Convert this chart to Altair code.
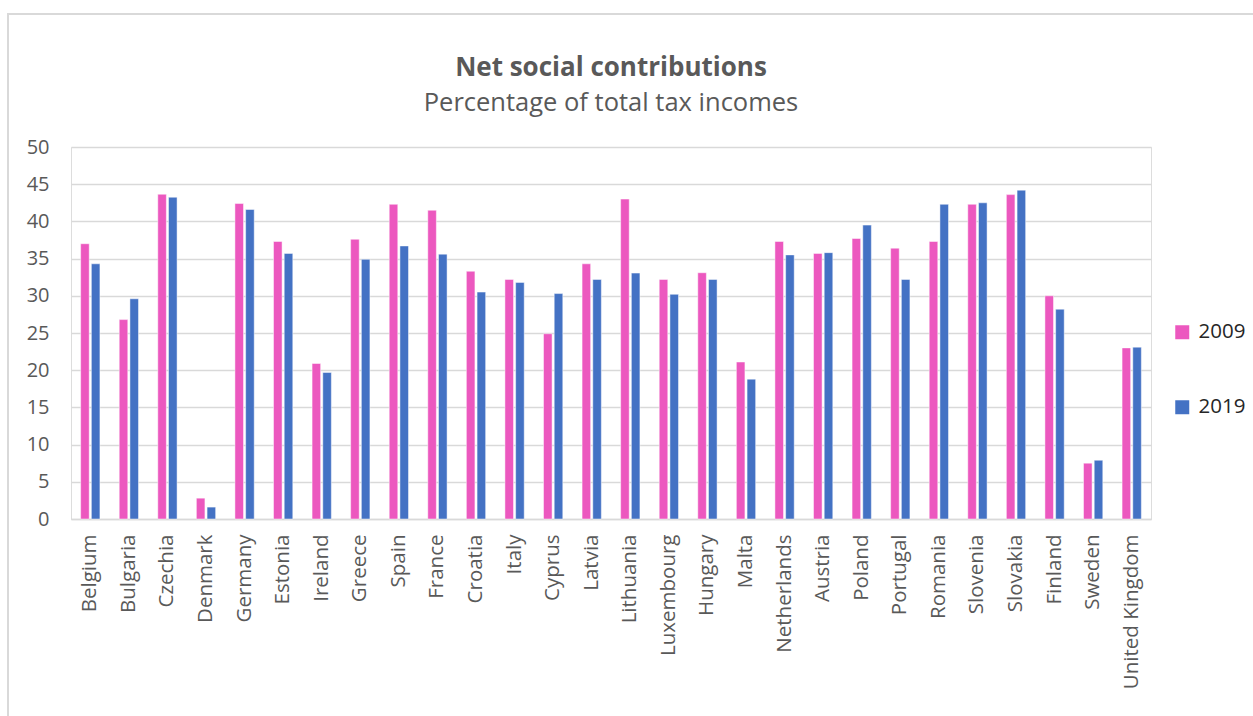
import altair as alt
import pandas as pd

countries = ["Belgium", "Bulgaria", "Czechia", "Denmark", "Germany", "Estonia", "Ireland",
             "Greece", "Spain", "France", "Croatia", "Italy", "Cyprus", "Latvia", "Lithuania",
             "Luxembourg", "Hungary", "Malta", "Netherlands", "Austria", "Poland", "Portugal",
             "Romania", "Slovenia", "Slovakia", "Finland", "Sweden", "United Kingdom"]
v2009 = [37.0, 26.8, 43.65, 2.8, 42.4, 37.3, 20.9, 37.6, 42.3, 41.5, 33.3, 32.2, 24.9, 34.3,
         43.0, 32.2, 33.1, 21.1, 37.3, 35.7, 37.7, 36.4, 37.3, 42.3, 43.6, 30.0, 7.5, 23.0]
v2019 = [34.3, 29.6, 43.25, 1.6, 41.6, 35.7, 19.7, 34.9, 36.7, 35.6, 30.5, 31.8, 30.3, 32.2,
         33.05, 30.2, 32.2, 18.8, 35.5, 35.8, 39.5, 32.2, 42.3, 42.5, 44.2, 28.2, 7.9, 23.1]
years = ["2009", "2019"]
colors = ["#EC58BF", "#4472C4"]

rows = []
for c, a, b in zip(countries, v2009, v2019):
    rows.append({"country": c, "year": years[0], "value": a})
    rows.append({"country": c, "year": years[1], "value": b})
df = pd.DataFrame(rows)

FONT = "Open Sans"
LEFT, TOP = 71, 147
W, H = 1080, 372

bars = alt.Chart(df).mark_bar(stroke="white", strokeOpacity=0.6, strokeWidth=0.8).encode(
    x=alt.X("country:N", sort=countries, title=None,
            scale=alt.Scale(paddingInner=0.5, paddingOuter=0.25),
            axis=alt.Axis(labelAngle=-90, labelFontSize=20.5, labelColor="#595959", labelFont=FONT,
                          ticks=False, domainColor="#d9d9d9", domainWidth=1.5, labelPadding=15,
                          labelBaseline="middle", labelAlign="right")),
    xOffset=alt.XOffset("year:N", scale=alt.Scale(paddingInner=0.2)),
    y=alt.Y("value:Q", title=None,
            scale=alt.Scale(domain=[0, 50]),
            axis=alt.Axis(values=list(range(0, 51, 5)), labelFontSize=20, labelColor="#595959",
                          labelFont=FONT, ticks=False, domain=False, gridColor="#d9d9d9",
                          gridWidth=1.5, labelPadding=22)),
    color=alt.Color("year:N", scale=alt.Scale(domain=years, range=colors),
                    legend=alt.Legend(title=None, orient="none", legendX=1172 - LEFT, legendY=322 - TOP,
                                      symbolType="square", symbolSize=196, symbolStrokeWidth=0,
                                      labelFontSize=20.5, labelFont=FONT, labelColor="#262626",
                                      rowPadding=54, labelOffset=6)),
)

border = alt.Chart(pd.DataFrame({"a": [0]})).mark_rect(fill=None, stroke="#d9d9d9", strokeWidth=2).encode(
    x=alt.value(8 - LEFT), x2=alt.value(W + 140), y=alt.value(14 - TOP), y2=alt.value(H + 220)
)

chart = alt.layer(border, bars).properties(
    width=W, height=H,
    title=alt.TitleParams("Net social contributions", subtitle="Percentage of total tax incomes",
                          font=FONT, fontSize=26, fontWeight="bold", color="#595959",
                          subtitleFont=FONT, subtitleFontSize=25.5, subtitleColor="#595959",
                          subtitlePadding=10, anchor="middle", offset=-103),
    autosize=alt.AutoSizeParams(type="none"),
    padding={"left": LEFT, "top": TOP, "right": 1253 - LEFT - W, "bottom": 716 - TOP - H},
).configure_view(stroke=None).configure(background="white")

chart.save("out.html", embed_options={"renderer": "svg", "actions": False})
